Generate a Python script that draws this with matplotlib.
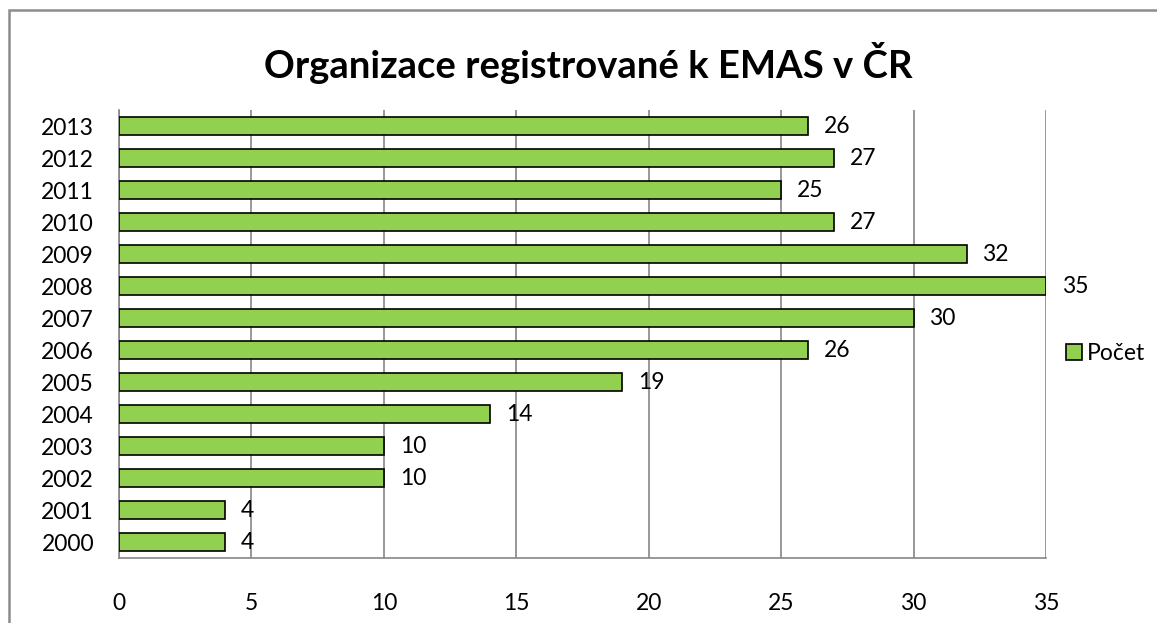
import numpy as np
import matplotlib
matplotlib.use("Agg")
from matplotlib import pyplot as plt
from matplotlib.patches import Rectangle

years = ['2000', '2001', '2002', '2003', '2004', '2005', '2006',
         '2007', '2008', '2009', '2010', '2011', '2012', '2013']
pocet = [4, 4, 10, 10, 14, 19, 26, 30, 35, 32, 27, 25, 27, 26]
xticks = [0, 5, 10, 15, 20, 25, 30, 35]

plt.rcParams['font.family'] = ['Lato', 'DejaVu Sans']

fig = plt.figure(figsize=(11.57, 6.23), dpi=100)
ax = fig.add_axes([0.1029, 0.1043, 0.8012, 0.719])

# outer chart frame (cut off at right/bottom like the screenshot)
fig.patches.append(Rectangle((0.0075, -0.5), 1.5, 1.484, transform=fig.transFigure,
                             fill=False, edgecolor='#8c8c8c', linewidth=1.8, clip_on=False))

y = np.arange(len(years))
bars = ax.barh(y, pocet, height=0.57, color='#92D050', edgecolor='black', linewidth=1.2,
               label='Počet', zorder=3)
for yi, v in zip(y, pocet):
    ax.text(v + 0.6, yi, str(v), va='center', ha='left', fontsize=16.5)

ax.set_xlim(0, 35)
ax.set_ylim(-0.5, len(years) - 0.5)
ax.set_xticks(xticks)
ax.set_xticklabels([str(t) for t in xticks], fontsize=16.5)
ax.set_yticks(y)
ax.set_yticklabels(years, fontsize=16.5)
ax.tick_params(axis='both', length=0)
ax.tick_params(axis='x', pad=25)
ax.tick_params(axis='y', pad=18)
ax.grid(axis='x', color='#868686', linewidth=1.2, zorder=0)
for s in ['top', 'right']:
    ax.spines[s].set_visible(False)
ax.spines['left'].set_color('#868686')
ax.spines['left'].set_linewidth(1.2)
ax.spines['bottom'].set_color('#868686')
ax.spines['bottom'].set_linewidth(1.2)

fig.text(0.508, 0.899, 'Organizace registrované k EMAS v ČR', ha='center', va='center',
         fontsize=27.5, fontweight='bold')

fig.legend(handles=[bars], labels=['Počet'], loc='center left', bbox_to_anchor=(0.921, 0.433),
           frameon=False, fontsize=16.5, handlelength=0.7, handleheight=0.7,
           handletextpad=0.25, borderpad=0, borderaxespad=0)

fig.savefig('out.png', dpi=100)
